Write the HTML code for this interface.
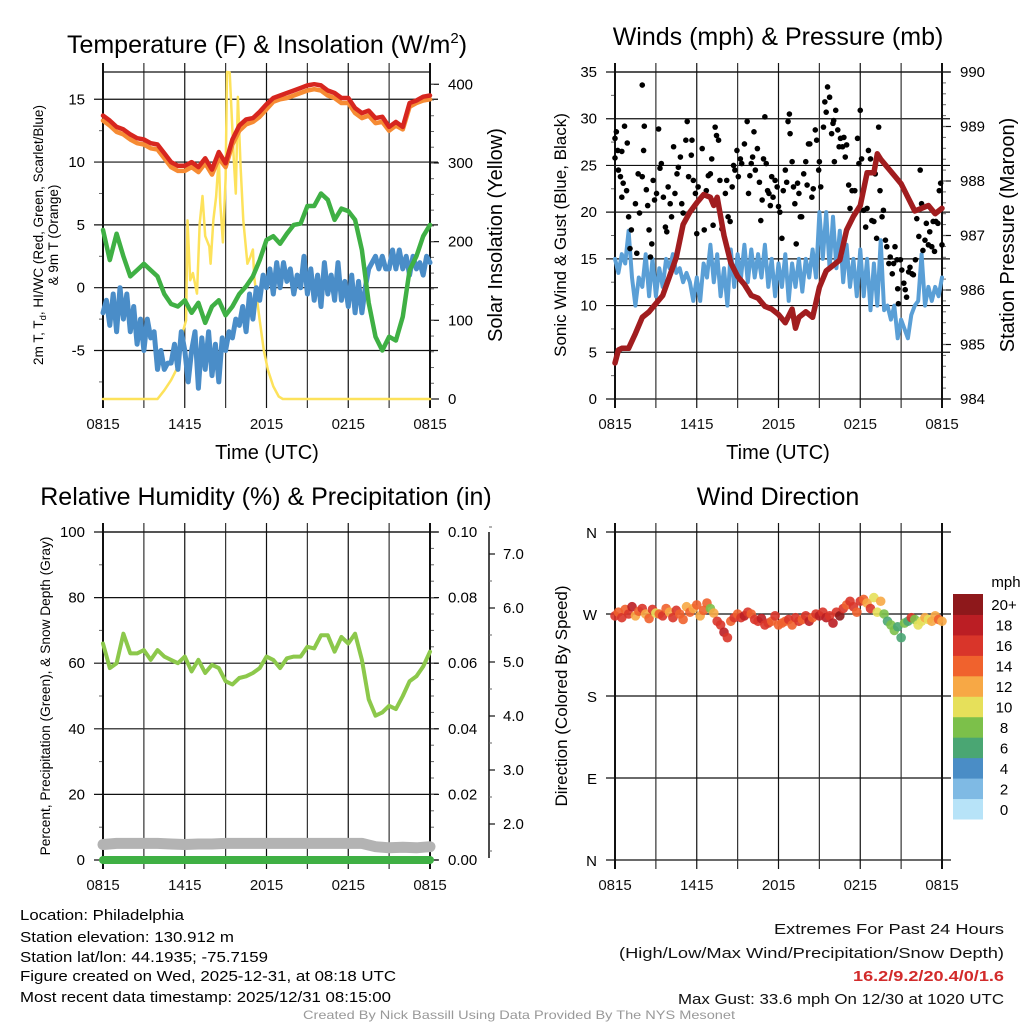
<!DOCTYPE html>
<html><head><meta charset="utf-8"><style>
html,body{margin:0;padding:0;background:#fff;}
svg{display:block;font-family:"Liberation Sans",Arial,sans-serif;}
</style></head><body>
<svg id="chart" width="1024" height="1024" viewBox="0 0 1024 1024" xmlns="http://www.w3.org/2000/svg"></svg>
<script>
// ---------- DATA ----------
const xTickLabels = ["0815","1415","2015","0215","0815"];
// Temperature panel (0.5 h steps)
const temp2m = [13.7,13.3,12.8,12.6,12.2,11.9,11.8,11.5,11.4,10.7,10.0,9.7,9.7,10.0,9.6,10.3,9.4,10.8,9.9,11.8,12.9,13.4,13.5,14.0,14.6,15.1,15.3,15.5,15.7,15.9,16.1,16.2,16.1,15.7,15.5,15.1,15.1,14.3,13.9,14.1,13.5,13.6,12.8,13.2,12.8,14.7,14.9,15.2,15.3];
const temp9m = [13.3,12.9,12.4,12.2,11.8,11.5,11.4,11.1,11.0,10.3,9.6,9.3,9.3,9.6,9.2,9.9,9.0,10.3,9.6,11.4,12.5,13.0,13.2,13.6,14.2,14.8,15.0,15.1,15.3,15.5,15.7,15.8,15.7,15.3,15.1,14.7,14.7,13.9,13.5,13.7,13.1,13.2,12.5,12.9,12.6,14.4,14.7,14.9,15.0];
const dewpoint = [4.6,2.2,4.3,2.5,0.9,1.4,1.9,1.4,0.9,-0.5,-1.3,-1.5,-1.0,-2.0,-1.2,-2.8,-1.5,-1.0,-2.2,-1.5,-0.5,0.1,0.9,2.2,3.8,4.1,3.5,4.3,5.0,5.1,6.5,6.5,7.5,7.0,5.4,6.3,6.1,5.4,3.0,-1.2,-3.9,-5.0,-3.9,-4.2,-2.3,1.4,2.5,4.1,5.0];
// Wind chill (0.25 h steps)
const windChill = [-2,-1,-3,-0.5,-3.5,0,-2.5,-0.5,-3.5,-1.5,-4.5,-2.5,-5,-2.5,-4,-3.5,-6.5,-5,-6.5,-6,-6,-4.5,-6.5,-3.5,-5,-7.5,-5,-3.5,-8,-4,-6.5,-3.5,-7,-4.5,-7.5,-4,-5,-3.5,-4,-2.5,-3,-1.5,-3.5,-0.5,-2.5,0,-1,1,0,1.5,-0.5,2,0,2,0.5,1.5,-0.5,1,0,2.5,-0.5,1.5,-1,1,-1.5,2,-0.5,1,-1,2,-1,0.5,-1.5,1,-2,0.5,-2,0,1.5,2,2.5,1.5,2.5,1.5,1.5,3,1.5,3,1.5,2.5,1,2.5,1.5,2,1,2.5,2];
// Solar insolation
const solarTime = [0,4.0,4.5,5.0,5.5,5.9,6.1,6.2,6.4,6.6,6.9,7.1,7.3,7.5,7.8,7.9,8.1,8.3,8.5,8.6,8.8,9.0,9.1,9.3,9.6,9.75,9.9,10.1,10.3,10.6,10.8,11.0,11.1,11.5,11.8,12.1,12.5,12.9,13.2,24];
const solarVal = [0,0,11,24,41,88,100,227,151,160,134,223,258,207,194,172,228,257,308,250,199,280,418,415,304,261,384,295,227,172,180,190,155,100,62,37,16,3,0,0];
// Winds panel
const windSpeed = [15,13.5,15.5,14.5,18,13,10,13,12,15.5,11,15,11,14,12,15,14,15.5,13.5,14,12.5,13.5,12.5,10.5,13,10.5,14.5,13,16.5,12.5,15.5,11,14,10,16,12,15.5,13,16.5,12.5,16,13,15.5,13,16.5,12,15,11,14.5,12,15.5,10.5,14.5,12,15,11.5,15,13,16,13,20,15,20,14,19.5,14,18,12.5,16.5,12,15,11,16,11,15,9.5,14.5,10,17,9.5,10,8.5,10,6.5,8.5,7.5,6.5,9,10,10.5,15.5,10,12,10.5,12,11,13];
const pressTime = [0,0.25,0.5,1,1.5,2,2.5,3,3.5,4,4.5,5,5.5,6,6.5,7,7.25,7.5,8,8.5,9,9.5,10,10.5,11,11.5,12,12.5,13,13.25,13.5,14,14.5,15,15.5,16,16.5,17,17.5,18,18.5,19,19.25,19.5,20,20.5,21,21.5,22,22.5,23,23.5,24];
const pressVal = [984.66,984.9,984.93,984.93,985.2,985.5,985.6,985.75,985.9,986.25,986.6,987.2,987.43,987.6,987.75,987.7,987.55,987.7,987.0,986.5,986.25,986.1,985.9,985.85,985.7,985.65,985.55,985.4,985.65,985.3,985.5,985.6,985.5,986.05,986.35,986.45,986.55,987.1,987.35,987.55,988.15,988.15,988.5,988.4,988.25,988.1,987.95,987.7,987.45,987.5,987.55,987.4,987.5];
const gustTime = [0,0.0,0.1,0.2,0.5,0.25,0.4,0.6,0.7,0.85,0.9,0.5,1.0,1.2,1.1,1.5,1.6,1.7,1.8,2.0,2.0,2.1,2.15,2.3,2.4,2.5,2.6,2.7,2.8,2.9,3.05,3.2,3.3,3.4,3.55,3.7,3.8,3.9,4.05,4.15,4.3,4.4,4.55,4.65,4.8,4.9,5.0,5.2,5.3,5.4,5.6,5.65,5.75,5.9,6.0,6.1,6.4,6.55,6.7,6.85,7.0,7.1,7.2,7.35,7.45,7.6,7.7,7.85,8.1,8.2,8.3,8.45,8.6,8.7,8.8,8.95,9.05,9.2,9.3,9.5,9.7,9.8,9.9,10.0,10.1,10.2,10.3,10.45,10.6,10.7,10.8,10.9,11.0,11.1,11.2,11.3,11.4,11.5,11.6,11.75,11.9,12.0,12.1,12.25,12.35,12.5,12.6,12.7,12.8,12.85,13.0,13.1,13.2,13.3,13.4,13.5,13.6,13.7,13.85,14.0,14.1,14.2,14.3,14.45,14.55,14.7,14.8,14.95,15.0,15.1,15.3,15.4,15.5,15.6,15.75,15.9,16.0,16.05,16.1,16.2,16.35,16.45,16.55,16.7,16.8,16.9,17.0,17.15,17.25,17.4,17.6,17.8,17.9,18.0,18.1,18.25,18.4,18.5,18.6,18.75,18.85,19.0,19.1,19.2,19.35,19.45,19.6,19.7,19.85,19.95,20.1,20.2,20.35,20.45,20.55,20.7,20.75,20.8,20.95,21.05,21.2,21.3,21.4,21.55,21.65,21.8,21.9,22.05,22.15,22.3,22.4,22.5,22.6,22.75,22.85,23.0,23.1,23.25,23.35,23.45,23.55,23.7,23.8,23.9,24.0];
const gustVal = [25.8,27.9,28.6,26.6,26.5,24.5,23.8,23.1,29.2,22.3,27.4,21.6,19.5,18.1,16.1,20.9,15.6,24.1,19.9,23.8,33.6,26.6,29.2,22.4,20.7,18.1,15.2,16.6,23.4,21.3,22.0,28.9,24.7,25.2,21.6,18.4,17.9,22.7,20.9,19.5,27.0,22.0,24.1,24.8,25.9,20.9,19.9,27.7,29.7,23.8,26.1,27.7,23.4,22.0,17.7,22.7,26.8,18.1,22.3,23.9,24.1,25.7,18.6,29.1,28.2,27.7,23.4,18.2,22.0,23.4,19.5,19.0,22.7,25.0,24.5,26.6,23.8,25.7,25.2,27.3,29.7,22.0,23.9,25.2,25.9,28.6,24.5,26.8,23.2,19.1,21.3,25.7,30.2,25.2,22.3,22.0,20.7,23.8,21.6,23.4,22.7,20.6,20.0,17.2,22.3,24.5,23.2,29.7,30.5,28.4,25.4,22.7,20.9,16.6,23.1,22.0,19.5,19.5,24.1,25.4,22.9,27.3,27.3,21.6,22.5,28.8,27.7,24.5,25.4,22.7,29.1,31.8,30.7,33.4,32.3,28.4,29.5,29.8,25.4,30.9,28.8,27.0,27.9,27.0,28.0,25.9,27.2,22.9,20.4,22.3,22.3,27.9,25.2,30.9,25.7,20.2,18.4,20.4,26.6,25.7,19.1,19.0,24.1,17.2,29.1,22.3,19.5,20.2,17.0,16.3,14.5,15.2,13.4,14.5,16.3,14.9,11.8,10.2,14.9,13.8,12.4,11.7,10.9,13.6,14.1,13.4,13.3,14.9,19.3,17.4,24.5,20.9,15.9,17.0,18.8,16.5,17.9,16.3,19.0,15.8,19.0,18.8,22.3,23.1,16.5];
// RH panel (0.5 h steps)
const relHum = [66,58.5,60,69,63,63,64,61,64,62,61,60,62,57.5,61,57,59.5,58.5,54.5,53.5,55.5,56,57,58.5,62,61,58.5,61.5,62,62,65,64.5,68.5,68.5,63.5,68,66,69,61,49,44,45,47,46,50,54.5,56,59,63.5];
const precip = [0,0,0,0,0,0,0,0,0,0,0,0,0,0,0,0,0,0,0,0,0,0,0,0,0];
const snowDepth = [1.62,1.64,1.64,1.64,1.64,1.63,1.62,1.63,1.63,1.64,1.64,1.64,1.64,1.64,1.64,1.64,1.64,1.64,1.64,1.64,1.58,1.56,1.57,1.56,1.58];
// Wind direction panel (0.25 h steps)
const windDir = [268,272,266,275,270,278,268,273,276,270,265,275,271,270,268,276,272,266,274,270,264,278,272,276,280,268,274,282,276,271,262,258,250,244,262,266,270,266,268,272,270,264,262,265,258,260,262,268,258,260,262,264,258,266,262,264,268,262,266,270,268,272,266,268,260,272,268,276,280,284,278,272,284,286,282,276,288,272,284,270,262,258,252,256,244,260,262,266,264,258,262,266,264,262,268,264,262];
const dirSpeed = [16,15,17,14,16,18,13,15,16,12,14,17,11,15,16,14,13,16,17,15,14,12,15,13,14,12,15,14,8,13,16,17,18,17,15,16,14,17,18,16,15,17,16,18,17,16,15,16,14,14,15,16,14,16,17,15,16,18,15,16,19,16,18,17,19,17,20,16,15,16,17,14,16,15,12,17,11,10,13,8,7,9,8,6,7,8,7,16,9,10,11,12,10,12,13,15,12];
const colorbarLabels = ["0","2","4","6","8","10","12","14","16","18","20+"];
const colorbarColors = ["#b7e3f8","#7fbae4","#4a8dc6","#4aa673","#7cc04a","#e6e05a","#f7a845","#f0622d","#d9352a","#bb1e24","#8e181b"];

// ---------- HELPERS ----------
const svg = document.getElementById('chart');
const NS = 'http://www.w3.org/2000/svg';
function mk(tag, attrs, parent){
  const e = document.createElementNS(NS, tag);
  for (const k in attrs) e.setAttribute(k, attrs[k]);
  (parent || svg).appendChild(e);
  return e;
}
function txt(s, attrs, parent){
  const e = mk('text', attrs, parent);
  e.textContent = s;
  return e;
}
function makeX(p){ return t => p.x0 + t / 24 * (p.x1 - p.x0); }
function makeY(p, lo, hi){ return v => p.y1 - (v - lo) / (hi - lo) * (p.y1 - p.y0); }

function frame(p, g, yMajor, yMinor, yScale, rMajor, rMinor, rScale){
  const xs = makeX(p);
  yMajor.forEach(v => {
    const y = yScale(v);
    const l = mk('line', {x1:p.x0-9, x2:p.x1+(rScale?8:9), y1:y, y2:y, stroke:'#111', 'stroke-width':1.2}, g);
    
    
  });
  yMinor.forEach(v => {
    const y = yScale(v);
    const l = mk('line', {x1:p.x0-4, x2:p.x0, y1:y, y2:y, stroke:'#666', 'stroke-width':1}, g);
    
    
  });
  if (rScale){
    rMajor.forEach(v => {
      const y = rScale(v);
      const l = mk('line', {x1:p.x1, x2:p.x1+9, y1:y, y2:y, stroke:'#111', 'stroke-width':1.2}, g);
      
      
    });
    rMinor.forEach(v => {
      const y = rScale(v);
      const l = mk('line', {x1:p.x1, x2:p.x1+4, y1:y, y2:y, stroke:'#666', 'stroke-width':1}, g);
      
      
    });
  }
  for (let i = 0; i <= 8; i++){
    const x = xs(i * 3);
    const l = mk('line', {x1:x, x2:x, y1:p.y0-9, y2:p.y1+9, stroke: (i%2? '#333':'#111'), 'stroke-width': (i===0||i===8)?2:1.2}, g);
    
    
  }
  const top = mk('line', {x1:p.x0, x2:p.x1, y1:p.y0, y2:p.y0, stroke:'#111', 'stroke-width':1.2}, g);
  
  
  xTickLabels.forEach((s, i) => {
    const t = txt(s, {x:xs(i*6), y:p.y1+30, 'font-size':15, 'text-anchor':'middle', fill:'#111'}, g);
    
    
  });
}
function poly(pts, attrs, g, name){
  const e = mk('polyline', Object.assign({points: pts.map(q => q[0].toFixed(1)+','+q[1].toFixed(1)).join(' '), fill:'none', 'stroke-linejoin':'round', 'stroke-linecap':'round'}, attrs), g);
  
  
  return e;
}
function range(a, b, s){ const r = []; for (let v = a; v <= b + 1e-9; v += s) r.push(+v.toFixed(4)); return r; }

// ---------- PANEL 1: Temperature ----------
(function(){
  const p = {x0:103, x1:430, y0:72, y1:399};
  const g = mk('g', {}, svg);
  
  
  const xs = makeX(p), ys = makeY(p, -8.86, 17.17), rs = makeY(p, 0, 415.6);
  frame(p, g, [-5,0,5,10,15], [-7.5,-2.5,2.5,7.5,12.5], ys, range(0,400,100), range(20,400,20), rs);
  [-5,0,5,10,15].forEach(v => { const t = txt(String(v), {x:85, y:ys(v)+5, 'font-size':15, 'text-anchor':'end'}, g);   });
  range(0,400,100).forEach(v => { const t = txt(String(v), {x:448, y:rs(v)+5, 'font-size':15}, g);   });
  poly(solarTime.map((t,i)=>[xs(t), Math.max(p.y0, rs(solarVal[i]))]), {stroke:'#fde25b','stroke-width':2.5}, g, 'solar-insolation-line');
  poly(windChill.map((v,i)=>[xs(i*0.25), ys(v)]), {stroke:'#4a8dc8','stroke-width':5}, g, 'wind-chill-line');
  poly(dewpoint.map((v,i)=>[xs(i*0.5), ys(v)]), {stroke:'#3fb044','stroke-width':4.5}, g, 'dewpoint-line');
  poly(temp9m.map((v,i)=>[xs(i*0.5), ys(v)]), {stroke:'#f68b33','stroke-width':4.5}, g, 'temp-9m-line');
  poly(temp2m.map((v,i)=>[xs(i*0.5), ys(v)]), {stroke:'#d7261f','stroke-width':4.5}, g, 'temp-2m-line');
  const tt = txt('', {x:267, y:53, 'font-size':25, 'text-anchor':'middle'}, g);
  tt.innerHTML = 'Temperature (F) &amp; Insolation (W/m<tspan dy="-10" font-size="15">2</tspan><tspan dy="10">)</tspan>';
   
  const xt = txt('Time (UTC)', {x:267, y:459, 'font-size':20, 'text-anchor':'middle'}, g);
   
  const yl = txt('', {transform:'translate(43,235) rotate(-90)', 'font-size':13.5, 'text-anchor':'middle'}, g);
  yl.innerHTML = '2m T, T<tspan dy="3" font-size="9.5">d</tspan><tspan dy="-3">, HI/WC (Red, Green, Scarlet/Blue)</tspan>';
   
  const yl2 = txt('& 9m T (Orange)', {transform:'translate(58,235) rotate(-90)', 'font-size':13.5, 'text-anchor':'middle'}, g);
   
  const yr = txt('Solar Insolation (Yellow)', {transform:'translate(502,235) rotate(-90)', 'font-size':20, 'text-anchor':'middle'}, g);
   
})();

// ---------- PANEL 2: Winds ----------
(function(){
  const p = {x0:615, x1:942, y0:72, y1:399};
  const g = mk('g', {}, svg);
  
  
  const xs = makeX(p), ys = makeY(p, 0, 35), rs = makeY(p, 984, 990);
  frame(p, g, range(0,35,5), range(2.5,32.5,5), ys, range(984,990,1), range(984.2,989.8,0.2), rs);
  range(0,35,5).forEach(v => { const t = txt(String(v), {x:597, y:ys(v)+5, 'font-size':15, 'text-anchor':'end'}, g);   });
  range(984,990,1).forEach(v => { const t = txt(String(v), {x:960, y:rs(v)+5, 'font-size':15}, g);   });
  poly(windSpeed.map((v,i)=>[xs(i*0.25), ys(v)]), {stroke:'#5a9fd6','stroke-width':4}, g, 'sonic-wind-line');
  gustTime.forEach((t,i) => {
    const c = mk('circle', {cx:xs(t), cy:ys(gustVal[i]), r:2.8, fill:'#000'}, g);
    
    
  });
  poly(pressTime.map((t,i)=>[xs(t), rs(pressVal[i])]), {stroke:'#a11d1f','stroke-width':5.5}, g, 'pressure-line');
  const tt = txt('Winds (mph) & Pressure (mb)', {x:778, y:45, 'font-size':25, 'text-anchor':'middle'}, g);
   
  const xt = txt('Time (UTC)', {x:778, y:459, 'font-size':20, 'text-anchor':'middle'}, g);
   
  const yl = txt('Sonic Wind & Gust (Blue, Black)', {transform:'translate(566,235) rotate(-90)', 'font-size':17, 'text-anchor':'middle'}, g);
   
  const yr = txt('Station Pressure (Maroon)', {transform:'translate(1014,235) rotate(-90)', 'font-size':20, 'text-anchor':'middle'}, g);
   
})();

// ---------- PANEL 3: RH ----------
(function(){
  const p = {x0:103, x1:430, y0:532, y1:860};
  const g = mk('g', {}, svg);
  
  
  const xs = makeX(p), ys = makeY(p, 0, 100), rs = makeY(p, 0, 0.1), ss = v => 824 - (v - 2) * 54;
  frame(p, g, range(0,100,20), range(10,90,20), ys, range(0,0.1,0.02), range(0.005,0.095,0.005), rs);
  range(0,100,20).forEach(v => { const t = txt(String(v), {x:85, y:ys(v)+5, 'font-size':15, 'text-anchor':'end'}, g);   });
  range(0,0.1,0.02).forEach(v => { const t = txt(v.toFixed(2), {x:448, y:rs(v)+5, 'font-size':15}, g);   });
  const ax = mk('line', {x1:489, x2:489, y1:532, y2:858, stroke:'#111', 'stroke-width':1.5}, g);
   
  range(2,7,1).forEach(v => {
    const l = mk('line', {x1:489, x2:495, y1:ss(v), y2:ss(v), stroke:'#111', 'stroke-width':1.2}, g);
     
    const t = txt(v.toFixed(1), {x:503, y:ss(v)+5, 'font-size':15}, g);
     
  });
  range(1.5,7.5,1).forEach(v => {
    const l = mk('line', {x1:489, x2:492, y1:ss(v), y2:ss(v), stroke:'#666', 'stroke-width':1}, g);
     
  });
  poly(snowDepth.map((v,i)=>[xs(i), ss(v)]), {stroke:'#b3b3b3','stroke-width':11}, g, 'snow-depth-line');
  poly(precip.map((v,i)=>[xs(i), rs(v)]), {stroke:'#3fb044','stroke-width':8}, g, 'precipitation-line');
  poly(relHum.map((v,i)=>[xs(i*0.5), ys(v)]), {stroke:'#8cc84b','stroke-width':4}, g, 'relative-humidity-line');
  const tt = txt('Relative Humidity (%) & Precipitation (in)', {x:266, y:505, 'font-size':25, 'text-anchor':'middle'}, g);
   
  const yl = txt('Percent, Precipitation (Green), & Snow Depth (Gray)', {transform:'translate(50,696) rotate(-90)', 'font-size':13.7, 'text-anchor':'middle'}, g);
   
})();

// ---------- PANEL 4: Wind direction ----------
(function(){
  const p = {x0:615, x1:942, y0:532, y1:860};
  const g = mk('g', {}, svg);
  
  
  const xs = makeX(p), ys = makeY(p, 0, 360);
  frame(p, g, range(0,360,90), [], ys, null, null, null);
  const dirLabels = ["N","E","S","W","N"];
  dirLabels.forEach((s,i) => { const t = txt(s, {x:597, y:ys(i*90)+6, 'font-size':15, 'text-anchor':'end'}, g);   });
  windDir.forEach((d,i) => {
    const bin = Math.min(10, Math.floor(dirSpeed[i] / 2));
    const c = mk('circle', {cx:xs(i*0.25), cy:ys(d), r:4.8, fill:colorbarColors[bin], 'fill-opacity':0.9}, g);
    
    
  });
  const tt = txt('Wind Direction', {x:778, y:505, 'font-size':25, 'text-anchor':'middle'}, g);
   
  const yl = txt('Direction (Colored By Speed)', {transform:'translate(567,696) rotate(-90)', 'font-size':17, 'text-anchor':'middle'}, g);
   
  const cb = mk('g', {}, g);
   
  const h = (819 - 594) / colorbarColors.length;
  colorbarColors.forEach((c,i) => {
    const y = 819 - (i+1)*h;
    const r = mk('rect', {x:953, y:y, width:30, height:h+0.5, fill:c}, cb);
     
    const t = txt(colorbarLabels[i], {x:1004, y:y+h/2+6, 'font-size':15, 'text-anchor':'middle'}, cb);
     
  });
  const u = txt('mph', {x:1006, y:587, 'font-size':15, 'text-anchor':'middle'}, cb);
   
})();

// ---------- FOOTER ----------
(function(){
  const g = mk('g', {}, svg);
  
  
  const left = [["Location: Philadelphia",920,164],["Station elevation: 130.912 m",942,214],["Station lat/lon: 44.1935; -75.7159",962,248],["Figure created on Wed, 2025-12-31, at 08:18 UTC",981,376],["Most recent data timestamp: 2025/12/31 08:15:00",1002,371]];
  left.forEach(a => { const t = txt(a[0], {x:20, y:a[1], 'font-size':15, textLength:a[2], lengthAdjust:'spacingAndGlyphs'}, g);   });
  const right = [["Extremes For Past 24 Hours",934,230,'#111','normal'],["(High/Low/Max Wind/Precipitation/Snow Depth)",958,385,'#111','normal'],["16.2/9.2/20.4/0/1.6",981,151,'#d22b2b','bold'],["Max Gust: 33.6 mph On 12/30 at 1020 UTC",1004,326,'#111','normal']];
  right.forEach(a => { const t = txt(a[0], {x:1004-a[2], y:a[1], 'font-size':15, fill:a[3], 'font-weight':a[4], textLength:a[2], lengthAdjust:'spacingAndGlyphs'}, g);   });
  const c = txt('Created By Nick Bassill Using Data Provided By The NYS Mesonet', {x:303, y:1019, 'font-size':12, fill:'#999', textLength:432, lengthAdjust:'spacingAndGlyphs'}, g);
   
})();
</script>
</body></html>
